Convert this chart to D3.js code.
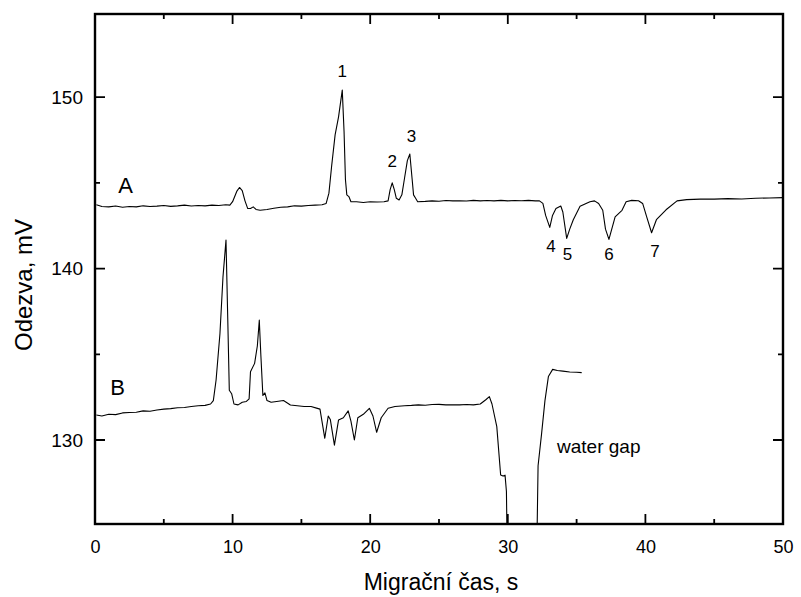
<!DOCTYPE html>
<html><head><meta charset="utf-8">
<script src="https://cdn.jsdelivr.net/npm/d3@7"></script>
<style>body{margin:0;background:#fff}svg{display:block}text{font-family:"Liberation Sans",Arial,sans-serif;fill:#000}</style>
</head><body><svg id="c" width="801" height="597"></svg>
<script>
const xTicks=[0,10,20,30,40,50];
const xMinor=[5,15,25,35,45];
const yTicks=[130,140,150];
const yMinor=[125,135,145,155];
const xDomain=[0,50];
const yDomain=[125.1,154.85];
const traceA=[[0.1,143.72],[0.5,143.62],[1,143.6],[1.5,143.65],[2,143.58],[2.5,143.62],[3,143.6],[3.5,143.66],[4,143.62],[4.5,143.64],[5,143.68],[5.5,143.63],[6,143.66],[6.5,143.7],[7,143.65],[7.5,143.68],[8,143.66],[8.5,143.7],[9,143.68],[9.5,143.72],[9.8,143.7],[10.0,143.9],[10.3,144.5],[10.5,144.73],[10.7,144.55],[10.9,143.95],[11.1,143.5],[11.3,143.5],[11.5,143.6],[11.7,143.45],[12.0,143.4],[12.5,143.45],[13,143.52],[13.5,143.58],[14,143.6],[14.5,143.66],[15,143.64],[15.5,143.68],[16,143.7],[16.5,143.72],[16.8,143.8],[17.0,144.4],[17.2,146.0],[17.45,147.8],[17.7,148.85],[17.97,150.41],[18.1,148.0],[18.2,145.2],[18.3,144.3],[18.45,144.2],[18.6,143.9],[19,143.9],[19.5,143.85],[20,143.9],[20.5,143.88],[21,143.9],[21.3,143.95],[21.45,144.6],[21.6,145.0],[21.75,144.6],[21.9,144.1],[22.1,144.0],[22.3,144.3],[22.5,145.3],[22.7,146.3],[22.88,146.68],[23.05,145.2],[23.15,144.3],[23.3,144.1],[23.45,143.9],[24,143.92],[24.5,143.95],[25,143.93],[25.5,143.97],[26,143.95],[26.5,143.96],[27,143.94],[27.5,143.98],[28,143.95],[28.5,143.97],[29,143.95],[29.5,143.98],[30,143.95],[30.5,143.97],[31,143.96],[31.5,143.98],[32,143.95],[32.3,143.95],[32.55,143.8],[32.75,143.1],[33.05,142.4],[33.25,143.1],[33.5,143.5],[33.85,143.65],[34.0,143.3],[34.28,141.76],[34.5,142.3],[34.76,142.85],[35.25,143.63],[35.97,143.9],[36.3,143.95],[36.6,143.8],[36.9,143.4],[37.1,142.3],[37.35,141.7],[37.8,143.02],[38.3,143.4],[38.6,143.9],[39,143.98],[39.5,143.96],[39.8,143.8],[40.1,143.0],[40.45,142.09],[40.8,142.85],[41.5,143.43],[42.3,143.95],[43,144.02],[44,144.05],[45,144.05],[46,144.08],[47,144.06],[48,144.1],[49,144.12],[50,144.14]];
const traceB=[[0.1,131.46],[0.5,131.4],[1,131.5],[1.5,131.48],[2,131.58],[2.5,131.6],[3,131.62],[3.5,131.7],[4,131.68],[4.5,131.75],[5,131.8],[5.5,131.83],[6,131.88],[6.5,131.9],[7,131.95],[7.5,132.0],[8,132.02],[8.4,132.1],[8.6,132.3],[8.8,133.5],[9.08,136.2],[9.3,139.5],[9.52,141.66],[9.65,137.0],[9.76,132.9],[9.93,132.7],[10.1,132.1],[10.4,132.05],[10.7,132.2],[11.0,132.25],[11.2,132.4],[11.3,133.98],[11.6,134.47],[11.8,135.5],[11.94,136.99],[12.05,135.0],[12.2,132.6],[12.35,132.75],[12.5,132.3],[12.8,132.2],[13.2,132.25],[13.7,132.3],[14.2,132.04],[14.7,132.0],[15.2,131.95],[15.7,131.95],[16.1,131.86],[16.35,131.8],[16.7,130.1],[16.95,131.4],[17.1,131.2],[17.4,129.7],[17.7,131.17],[18.05,131.3],[18.4,131.7],[18.6,131.1],[18.85,130.0],[19.1,131.3],[19.5,131.5],[19.94,131.85],[20.2,131.4],[20.47,130.45],[20.8,131.3],[21.3,131.85],[21.8,131.95],[22.5,132.0],[23,132.02],[23.5,132.05],[24,132.03],[24.5,132.07],[25,132.08],[25.5,132.05],[26,132.06],[26.5,132.05],[27,132.07],[27.5,132.05],[28.0,132.1],[28.4,132.35],[28.66,132.53],[28.85,132.1],[29.2,130.78],[29.48,127.96],[29.65,127.9],[29.8,127.95],[29.9,127.0],[30.1,115],[31.95,115],[32.2,128.5],[32.46,130.4],[32.7,132.3],[32.95,133.7],[33.26,134.12],[33.6,134.05],[34,134.02],[34.5,133.97],[35,133.95],[35.37,133.93]];
const peakLabels=[["1",17.97,151.17],["2",21.6,145.92],["3",23.0,147.38],["4",33.14,140.98],["5",34.34,140.5],["6",37.35,140.5],["7",40.7,140.69]];
const traceLabels=[["A",2.22,144.4],["B",1.64,132.62]];
const noteLabel=["water gap",33.58,129.24];

const svg=d3.select("#c");
const L=95,R=783,T=14,B=524;
const x=d3.scaleLinear().domain(xDomain).range([L,R]);
const y=d3.scaleLinear().domain(yDomain).range([B,T]);

svg.append("clipPath").attr("id","clip").append("rect").attr("x",L).attr("y",T).attr("width",R-L).attr("height",B-T);
const line=d3.line().x(d=>x(d[0])).y(d=>y(d[1]));
const g=svg.append("g").attr("clip-path","url(#clip)");
[traceA,traceB].forEach(t=>g.append("path").attr("d",line(t)).attr("fill","none").attr("stroke","#000").attr("stroke-width",1.1).attr("stroke-linejoin","round"));

function styleAxis(fs){return sel=>{sel.select(".domain").remove();sel.selectAll("line").remove();sel.selectAll("text").style("font-size",fs+"px").style("font-family","'Liberation Sans',Arial,sans-serif");};}
svg.append("g").attr("transform",`translate(0,${B})`).call(d3.axisBottom(x).tickValues(xTicks).tickSize(0).tickPadding(16).tickFormat(d3.format("d"))).call(styleAxis(18));
svg.append("g").attr("transform",`translate(${L},0)`).call(d3.axisLeft(y).tickValues(yTicks).tickSize(0).tickPadding(12).tickFormat(d3.format("d"))).call(styleAxis(19));

// inward ticks on all four sides
const xt=xTicks.map(v=>[v,10]).concat(xMinor.map(v=>[v,5]));
const yt=yTicks.map(v=>[v,10]).concat(yMinor.filter(v=>v>yDomain[0]&&v<yDomain[1]).map(v=>[v,5]));
let dTicks="";
xt.forEach(d=>{const px=x(d[0]);dTicks+=`M${px},${B}V${B-d[1]}M${px},${T}V${T+d[1]}`;});
yt.forEach(d=>{const py=y(d[0]);dTicks+=`M${L},${py}H${L+d[1]}M${R},${py}H${R-d[1]}`;});
svg.append("path").attr("d",dTicks).attr("fill","none").attr("stroke","#000").attr("stroke-width",1.8);

svg.append("rect").attr("x",L).attr("y",T).attr("width",R-L).attr("height",B-T).attr("fill","none").attr("stroke","#000").attr("stroke-width",2.4);

svg.append("text").attr("x",441).attr("y",590).attr("text-anchor","middle").style("font-size","23px").text("Migrační čas, s");
svg.append("text").attr("transform","translate(32,285) rotate(-90)").attr("text-anchor","middle").style("font-size","24px").text("Odezva, mV");

svg.selectAll(".pl").data(peakLabels).enter().append("text").attr("x",d=>x(d[1])).attr("y",d=>y(d[2])).attr("text-anchor","middle").style("font-size","17px").text(d=>d[0]);
svg.selectAll(".tl").data(traceLabels).enter().append("text").attr("x",d=>x(d[1])).attr("y",d=>y(d[2])).attr("text-anchor","middle").style("font-size","22px").text(d=>d[0]);
svg.append("text").attr("x",x(noteLabel[1])).attr("y",y(noteLabel[2])).style("font-size","19px").text(noteLabel[0]);
</script></body></html>
